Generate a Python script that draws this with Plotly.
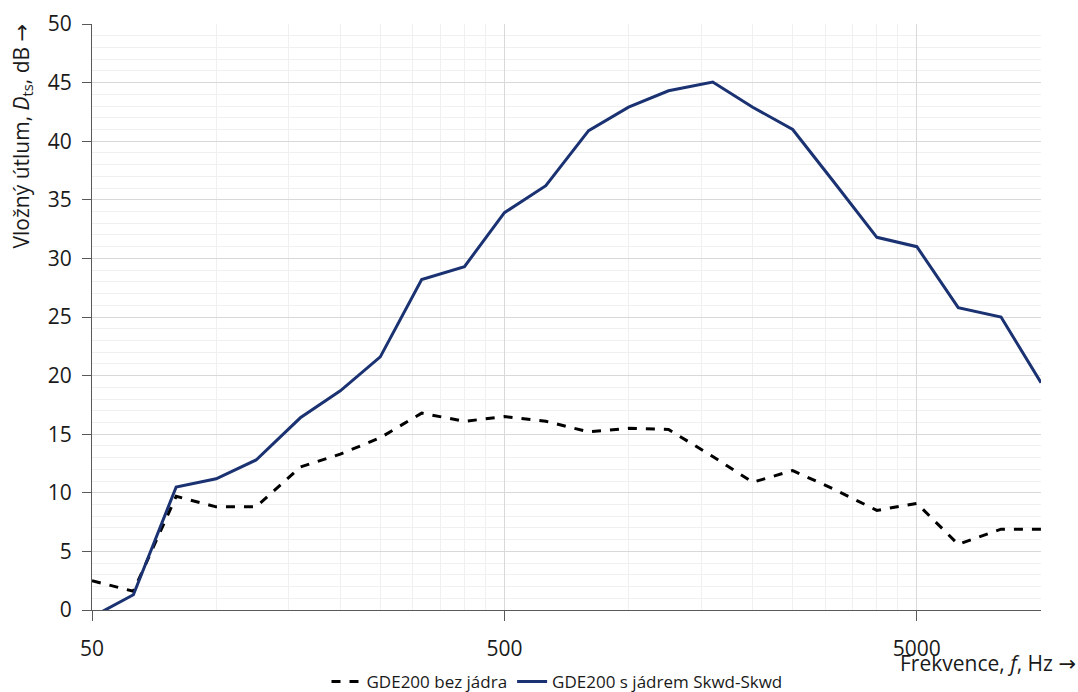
import plotly.graph_objects as go

freq = [50, 63, 80, 100, 125, 160, 200, 250, 315, 400, 500, 630, 800, 1000,
        1250, 1600, 2000, 2500, 3150, 4000, 5000, 6300, 8000, 10000]
bez_jadra = [2.5, 1.6, 9.7, 8.8, 8.8, 12.2, 13.3, 14.7, 16.8, 16.1, 16.5, 16.1,
             15.2, 15.5, 15.4, 13.1, 10.9, 11.9, 10.3, 8.5, 9.1, 5.6, 6.9, 6.9]
s_jadrem = [-0.6, 1.3, 10.5, 11.2, 12.8, 16.4, 18.7, 21.6, 28.2, 29.3, 33.9, 36.2,
            40.9, 42.9, 44.3, 45.05, 42.9, 41.0, 36.5, 31.8, 31.0, 25.8, 25.0, 19.4]
names = ["GDE200 bez jádra", "GDE200 s jádrem Skwd-Skwd"]
x_major = [50, 500, 5000]
x_minor = [50 * k for k in range(2, 10)] + [500 * k for k in range(2, 10)] + [10000]
y_ticks = list(range(0, 55, 5))

FONT = "Open Sans"
ARROW = '<span style="font-family:DejaVu Sans">→</span>'
fig = go.Figure()
fig.add_trace(go.Scatter(x=freq, y=bez_jadra, mode="lines", name=names[0],
                         line=dict(color="black", width=3, dash="dash")))
fig.add_trace(go.Scatter(x=freq, y=s_jadrem, mode="lines", name=names[1],
                         line=dict(color="#1b3272", width=3)))

fig.update_layout(
    width=1078, height=692,
    margin=dict(l=92, r=37, t=24, b=82, autoexpand=False),
    paper_bgcolor="white", plot_bgcolor="white",
    font=dict(family=FONT, color="#1a1a1a", size=21),
    showlegend=True,
    legend=dict(orientation="h", x=0.49, xanchor="center", y=-(682 - 610) / 586, yanchor="middle",
                font=dict(size=17, family=FONT), itemwidth=30,
                tracegroupgap=0, bgcolor="rgba(0,0,0,0)"),
)
fig.update_xaxes(
    type="log", range=[1.69897, 4.0],
    tickvals=x_major, ticktext=[str(v) for v in x_major],
    ticks="outside", ticklen=10, tickcolor="#595959", tickwidth=1.3,
    showline=True, linecolor="#595959", linewidth=1.3,
    showgrid=True, gridcolor="#d9d9d9", gridwidth=1.3,
    minor=dict(tickvals=x_minor, showgrid=True, gridcolor="#f0f0f0", gridwidth=1.3, ticks=""),
    tickfont=dict(size=21), zeroline=False, ticklabelstandoff=10,
)
fig.update_yaxes(
    range=[0, 50], tickvals=y_ticks,
    ticks="outside", ticklen=9, tickcolor="#595959", tickwidth=1.3,
    showline=True, linecolor="#595959", linewidth=1.3,
    showgrid=True, gridcolor="#d9d9d9", gridwidth=1.3,
    minor=dict(dtick=1, showgrid=True, gridcolor="#f0f0f0", gridwidth=1.3, ticks=""),
    tickfont=dict(size=21), zeroline=False, ticklabelstandoff=6,
)
fig.add_annotation(
    text="Vložný útlum, <i>D</i><sub>ts</sub>, dB " + ARROW,
    xref="paper", yref="paper", x=-92 / 949 + 22 / 949, y=1 + 2 / 586,
    xanchor="center", yanchor="top", textangle=-90, showarrow=False,
    font=dict(size=21, family=FONT, color="#1a1a1a"),
)
fig.add_annotation(
    text="Frekvence, <i>f</i>, Hz " + ARROW,
    xref="paper", yref="paper", x=1 + 37 / 949, y=-(663 - 610) / 586,
    xanchor="right", yanchor="middle", showarrow=False,
    font=dict(size=21, family=FONT, color="#1a1a1a"),
)
fig.write_html("out.html")
